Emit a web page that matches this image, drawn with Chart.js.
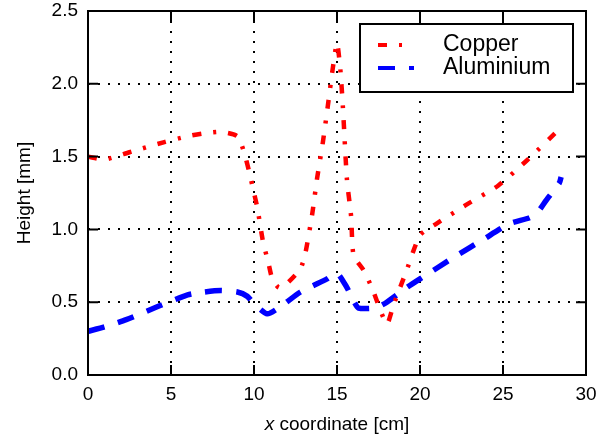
<!DOCTYPE html>
<html>
<head>
<meta charset="utf-8">
<script src="https://cdn.jsdelivr.net/npm/chart.js@4/dist/chart.umd.min.js"></script>
<style>
  body { margin: 0; background: #fff; }
  canvas { display: block; }
</style>
</head>
<body>
<canvas id="chart" width="605" height="439"></canvas>
<script>
// ============================= data

const copperX = [0, 1, 2.5, 4.6, 6, 7, 8, 9, 9.4, 9.7, 10, 10.2, 10.55, 10.85, 11.1, 11.5, 12, 12.8, 13.1, 13.5, 13.8, 14.15, 14.45, 14.75, 15, 15.2, 15.35, 15.6, 15.85, 16, 16.6, 17.1, 18, 18.4, 19.2, 20, 21, 22.8, 24.7, 26.4, 28.5]
const copperY = [1.50, 1.48, 1.53, 1.60, 1.64, 1.66, 1.67, 1.64, 1.53, 1.40, 1.25, 1.15, 0.91, 0.78, 0.66, 0.60, 0.63, 0.73, 0.84, 1.10, 1.35, 1.60, 1.85, 2.11, 2.28, 2.10, 1.85, 1.34, 1.09, 0.82, 0.72, 0.60, 0.35, 0.48, 0.72, 0.96, 1.04, 1.17, 1.30, 1.47, 1.70]

const aluX = [0, 1, 2.3, 4.2, 6, 7, 8, 9, 9.6, 10, 10.8, 11.6, 12.8, 14.4, 15, 15.6, 16, 16.3, 17.3, 17.7, 18, 19.2, 20, 22.2, 23.8, 25.4, 26.6, 27.1, 27.6, 28.4, 28.5]
const aluY = [0.30, 0.33, 0.38, 0.47, 0.55, 0.57, 0.58, 0.57, 0.54, 0.49, 0.42, 0.47, 0.57, 0.66, 0.70, 0.60, 0.51, 0.46, 0.46, 0.48, 0.50, 0.60, 0.66, 0.82, 0.93, 1.04, 1.08, 1.12, 1.20, 1.32, 1.36]

const seriesNames = ['Copper', 'Aluminium']
const xTicks = [0, 5, 10, 15, 20, 25, 30]
const yTicks = [0, 0.5, 1.0, 1.5, 2.0, 2.5]

const FONT = "'Liberation Sans', Arial, sans-serif"

// ============================= frame, inward ticks, titles and legend

const framePlugin = {
    id: 'frame',
    afterDraw(chart) {
        const ctx = chart.ctx
        const a = chart.chartArea
        const xs = chart.scales.x, ys = chart.scales.y
        ctx.save()
        ctx.strokeStyle = '#000'
        ctx.lineWidth = 2
        ctx.setLineDash([])
        ctx.strokeRect(a.left, a.top, a.right - a.left, a.bottom - a.top)

        // inward tick marks on all four sides
        ctx.beginPath()
        xTicks.forEach(v => {
            const px = xs.getPixelForValue(v)
            ctx.moveTo(px, a.bottom); ctx.lineTo(px, a.bottom - 10)
            ctx.moveTo(px, a.top); ctx.lineTo(px, a.top + 10)
        })
        yTicks.forEach(v => {
            const py = ys.getPixelForValue(v)
            ctx.moveTo(a.left, py); ctx.lineTo(a.left + 10, py)
            ctx.moveTo(a.right, py); ctx.lineTo(a.right - 10, py)
        })
        ctx.stroke()

        // axis titles
        ctx.fillStyle = '#000'
        ctx.textBaseline = 'middle'
        ctx.font = `italic 19px ${FONT}`
        const w1 = ctx.measureText('x').width
        ctx.font = `19px ${FONT}`
        const rest = ' coordinate [cm]'
        const w2 = ctx.measureText(rest).width
        const cx = (a.left + a.right) / 2
        let x0 = cx - (w1 + w2) / 2
        ctx.textAlign = 'left'
        ctx.font = `italic 19px ${FONT}`
        ctx.fillText('x', x0, 425)
        ctx.font = `19px ${FONT}`
        ctx.fillText(rest, x0 + w1, 425)

        ctx.save()
        ctx.translate(25, (a.top + a.bottom) / 2)
        ctx.rotate(-Math.PI / 2)
        ctx.textAlign = 'center'
        ctx.fillText('Height [mm]', 0, 0)
        ctx.restore()

        // legend box
        ctx.fillStyle = '#fff'
        ctx.fillRect(360, 24, 213, 68)
        ctx.strokeRect(360, 24, 213, 68)
        chart.data.datasets.forEach((ds, i) => {
            const y = 45 + i * 23
            ctx.save()
            ctx.strokeStyle = ds.borderColor
            ctx.lineWidth = 4
            ctx.setLineDash(ds.borderDash)
            ctx.beginPath()
            ctx.moveTo(378, y); ctx.lineTo(414, y)
            ctx.stroke()
            ctx.restore()
            ctx.fillStyle = '#000'
            ctx.font = `23px ${FONT}`
            ctx.textAlign = 'left'
            ctx.fillText(ds.label, 443, y)
        })
        ctx.restore()
    }
}

// ============================= chart

const toPoints = (xs, ys) => xs.map((x, i) => ({ x: x, y: ys[i] }))

new Chart(document.getElementById('chart'), {
    type: 'line',
    data: {
        datasets: [{
            label: seriesNames[0],
            data: toPoints(copperX, copperY),
            borderColor: '#ff0000',
            borderWidth: 4.5,
            borderDash: [9, 12, 3, 12],
            pointRadius: 0,
            tension: 0.2,
            fill: false
        }, {
            label: seriesNames[1],
            data: toPoints(aluX, aluY),
            borderColor: '#0000ff',
            borderWidth: 5.5,
            borderDash: [17, 14],
            pointRadius: 0,
            tension: 0.2,
            fill: false
        }]
    },
    options: {
        responsive: false,
        animation: false,
        devicePixelRatio: 1,
        layout: { padding: { top: 11, right: 19, left: 0, bottom: 0 } },
        plugins: {
            legend: { display: false },
            tooltip: { enabled: false }
        },
        scales: {
            x: {
                type: 'linear',
                min: 0, max: 30,
                afterFit: s => { s.height = 64; s.paddingLeft = 0; s.paddingRight = 0 },
                afterBuildTicks: s => { s.ticks = xTicks.map(v => ({ value: v })) },
                ticks: { color: '#000', font: { family: FONT, size: 19 }, padding: 8, maxRotation: 0,
                         callback: v => String(v) },
                grid: { color: '#000', lineWidth: 2, drawTicks: false },
                border: { display: false, dash: [2, 8] }
            },
            y: {
                type: 'linear',
                min: 0, max: 2.5,
                afterFit: s => { s.width = 88; s.paddingTop = 0; s.paddingBottom = 0 },
                afterBuildTicks: s => { s.ticks = yTicks.map(v => ({ value: v })) },
                ticks: { color: '#000', font: { family: FONT, size: 19 }, padding: 10,
                         callback: v => v.toFixed(1) },
                grid: { color: '#000', lineWidth: 2, drawTicks: false },
                border: { display: false, dash: [2, 8] }
            }
        }
    },
    plugins: [framePlugin]
})
</script>
</body>
</html>
